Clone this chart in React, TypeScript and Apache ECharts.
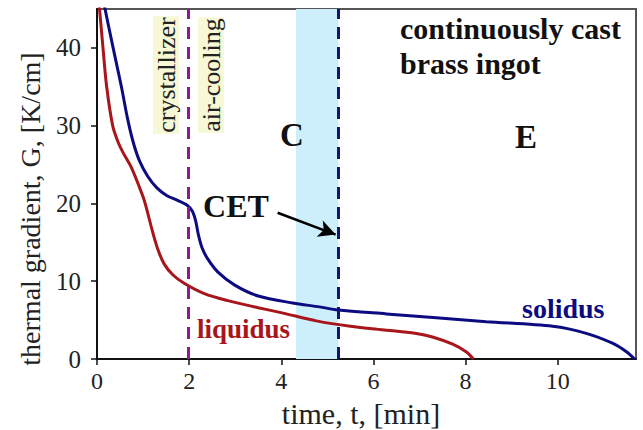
import React, { useEffect, useRef } from "react";
import * as echarts from "echarts";

// time [min] and thermal gradient [K/cm]
const liquidus: [number, number][] = [
  [0.04, 46], [0.13, 40], [0.21, 35], [0.34, 30], [0.45, 28], [0.56, 26.6],
  [0.74, 24.7], [0.92, 22.1], [1.02, 20.5], [1.1, 18.8], [1.2, 16.5], [1.32, 14.1],
  [1.46, 12.2], [1.65, 10.8], [1.9, 9.7], [2.33, 8.4], [2.84, 7.5], [3.5, 6.6],
  [4.04, 5.9], [4.76, 4.9], [5.5, 4.2], [6.28, 3.7], [6.9, 3.3], [7.3, 2.8],
  [7.72, 1.9], [8.02, 0.9], [8.17, 0],
];
const solidus: [number, number][] = [
  [0.14, 46], [0.35, 40], [0.53, 35], [0.66, 31], [0.78, 28], [0.92, 25.5],
  [1.1, 23.5], [1.3, 22.0], [1.52, 21.0], [1.75, 20.4], [1.95, 19.8], [2.07, 19.0],
  [2.14, 17.8], [2.2, 16.0], [2.28, 14.3], [2.4, 12.9], [2.62, 11.2], [2.99, 9.5],
  [3.5, 8.1], [4.25, 7.2], [4.83, 6.7], [5.23, 6.3], [6.28, 5.8], [8.45, 4.8],
  [9.89, 4.2], [10.62, 3.3], [11.2, 2.0], [11.5, 0.9], [11.67, 0],
];
const crystallizerEnd = 1.98;
const cetTime = 5.23;
const transitionZone: [number, number] = [4.32, 5.24];
const cetArrow: [[number, number], [number, number]] = [[3.92, 18.8], [5.18, 16.0]];

const FONT = "Liberation Serif";

export default function App() {
  const ref = useRef<HTMLDivElement>(null);
  useEffect(() => {
    if (!ref.current) return;
    const chart = echarts.init(ref.current, undefined, { renderer: "svg" });
    chart.setOption({
      animation: false,
      backgroundColor: "#ffffff",
      grid: {
        left: 97, top: 9, right: 7, bottom: 71,
        show: true, borderColor: "#555", borderWidth: 2, backgroundColor: "transparent",
      },
      xAxis: {
        type: "value", min: 0, max: 11.7, interval: 2,
        axisLine: { show: true, lineStyle: { color: "#111", width: 2 } },
        axisTick: { show: true, inside: false, length: 6, lineStyle: { color: "#111", width: 1.5 } },
        axisLabel: { color: "#222", fontFamily: FONT, fontSize: 24, margin: 10, lineHeight: 24, showMaxLabel: false },
        splitLine: { show: false },
      },
      yAxis: {
        type: "value", min: 0, max: 45, interval: 10,
        axisLine: { show: true, lineStyle: { color: "#111", width: 2 } },
        axisTick: { show: true, inside: false, length: 6, lineStyle: { color: "#111", width: 1.5 } },
        axisLabel: { color: "#222", fontFamily: FONT, fontSize: 25, margin: 16, showMaxLabel: false },
        splitLine: { show: false },
      },
      series: [
        {
          type: "line", data: [], z: 1, silent: true,
          markArea: {
            silent: true,
            itemStyle: { color: "#cdeffb" },
            data: [[{ xAxis: transitionZone[0] }, { xAxis: transitionZone[1] }]],
          },
          markLine: {
            silent: true, symbol: "none", label: { show: false },
            data: [
              { xAxis: crystallizerEnd, lineStyle: { color: "#8e1a90", width: 3, type: [12, 8] } },
              { xAxis: cetTime, lineStyle: { color: "#12146e", width: 3, type: [12, 8] } },
            ],
          },
        },
        {
          name: "liquidus", type: "line", data: liquidus, z: 3,
          smooth: 0.3, symbol: "none", showSymbol: false,
          lineStyle: { color: "#a8151b", width: 3 },
        },
        {
          name: "solidus", type: "line", data: solidus, z: 3,
          smooth: 0.3, symbol: "none", showSymbol: false,
          lineStyle: { color: "#0c0b80", width: 3 },
          markLine: {
            silent: true, symbol: ["none", "arrow"], symbolSize: [13, 17], label: { show: false },
            lineStyle: { color: "#000", width: 2.5, type: "solid" },
            data: [[{ coord: cetArrow[0] }, { coord: cetArrow[1] }]],
          },
        },
      ],
      graphic: [
        {
          type: "text", x: 30, y: 209, rotation: Math.PI / 2, z: 10,
          style: { text: "thermal gradient, G, [K/cm]", fontFamily: FONT, fontSize: 28, fill: "#222", align: "center", verticalAlign: "middle" },
        },
        {
          type: "text", x: 361, y: 413, z: 10,
          style: { text: "time, t, [min]", fontFamily: FONT, fontSize: 30, lineHeight: 30, fill: "#222", align: "center", verticalAlign: "middle" },
        },
        {
          type: "text", x: 166, y: 75, rotation: Math.PI / 2, z: 10,
          style: { text: "crystallizer", fontFamily: FONT, fontSize: 26, fill: "#222", align: "center", verticalAlign: "middle", backgroundColor: "#f6f8d6", padding: [0, 1] },
        },
        {
          type: "text", x: 211, y: 75, rotation: Math.PI / 2, z: 10,
          style: { text: "air-cooling", fontFamily: FONT, fontSize: 26, fill: "#222", align: "center", verticalAlign: "middle", backgroundColor: "#f6f8d6", padding: [0, 1] },
        },
        {
          type: "text", x: 400, y: 28, z: 10,
          style: { text: "continuously cast", fontFamily: FONT, fontSize: 30, fontWeight: "bold", fill: "#111", align: "left", verticalAlign: "middle" },
        },
        {
          type: "text", x: 400, y: 63, z: 10,
          style: { text: "brass ingot", fontFamily: FONT, fontSize: 30, fontWeight: "bold", fill: "#111", align: "left", verticalAlign: "middle" },
        },
        {
          type: "text", x: 292, y: 135, z: 10,
          style: { text: "C", fontFamily: FONT, fontSize: 33, fontWeight: "bold", fill: "#111", align: "center", verticalAlign: "middle" },
        },
        {
          type: "text", x: 526, y: 137, z: 10,
          style: { text: "E", fontFamily: FONT, fontSize: 33, fontWeight: "bold", fill: "#111", align: "center", verticalAlign: "middle" },
        },
        {
          type: "text", x: 236, y: 206, z: 10,
          style: { text: "CET", fontFamily: FONT, fontSize: 32, fontWeight: "bold", fill: "#111", align: "center", verticalAlign: "middle" },
        },
        {
          type: "text", x: 197, y: 329, z: 10,
          style: { text: "liquidus", fontFamily: FONT, fontSize: 27, fontWeight: "bold", fill: "#a8151b", align: "left", verticalAlign: "middle" },
        },
        {
          type: "text", x: 522, y: 308, z: 10,
          style: { text: "solidus", fontFamily: FONT, fontSize: 28, fontWeight: "bold", fill: "#0c0b80", align: "left", verticalAlign: "middle" },
        },
      ],
    });
    return () => chart.dispose();
  }, []);
  return (
    <div
      ref={ref}
      style={{ position: "fixed", left: 0, top: 0, width: 643, height: 430, background: "#fff" }}
    />
  );
}
